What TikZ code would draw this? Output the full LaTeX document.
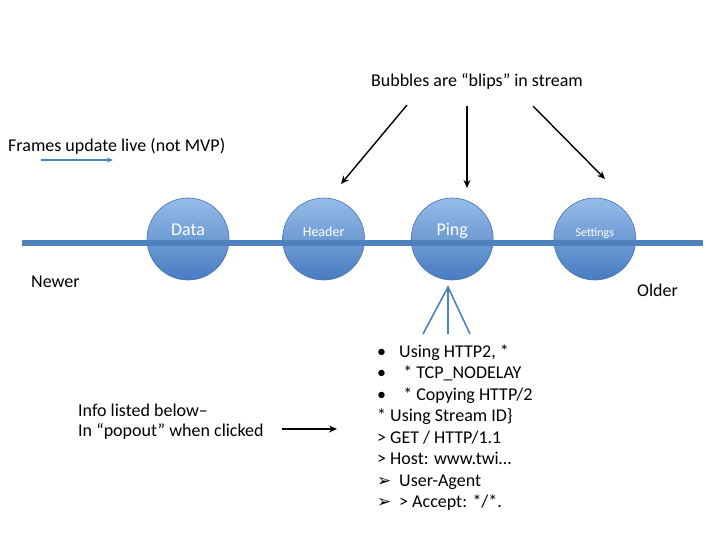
\documentclass[tikz,border=0pt]{standalone}
\usepackage{fontspec}
\setmainfont{Carlito}
\newfontfamily\arrowfont{DejaVu Sans}
\usetikzlibrary{arrows.meta,positioning}
\definecolor{streamblue}{RGB}{79,129,189}
\definecolor{bliptop}{RGB}{150,187,232}
\definecolor{blipbottom}{RGB}{72,124,193}
\definecolor{blipedge}{RGB}{68,114,176}

\begin{document}
\begin{tikzpicture}[x=1pt,y=-1pt,>={Stealth[length=8pt,width=7pt]},
  blip/.style={circle,minimum size=82pt,inner sep=0pt,draw=blipedge,line width=0.6pt,top color=bliptop,bottom color=blipbottom},
  bliplabel/.style={text=white,inner sep=0pt},
  note/.style={font=\fontsize{18}{21.43}\selectfont,inner sep=0pt},
  pointer/.style={->,line width=1.4pt},
  stream/.style={line width=6pt,color=streamblue}]

\useasboundingbox (0,0) rectangle (720,540);

% bubbles on the stream
\node[blip](data) at (188,239){};
\node[blip](header)[right=53pt of data]{};
\node[blip](ping)[right=46pt of header]{};
\node[blip](settings)[right=60pt of ping]{};

\coordinate(newend) at (22,243);
\coordinate(oldend) at (703,243);
\draw[stream](newend)--(oldend);

\node[bliplabel,font=\fontsize{18}{20}\selectfont] at ([yshift=9pt]data.center){Data};
\node[bliplabel,font=\fontsize{14}{16}\selectfont] at ([yshift=7pt]header.center){Header};
\node[bliplabel,font=\fontsize{18}{20}\selectfont] at ([yshift=8pt]ping.center){Ping};
\node[bliplabel,font=\fontsize{12}{14}\selectfont] at ([yshift=6pt]settings.center){Settings};

\node[note,anchor=west](newer) at (31,282){Newer};
\node[note,anchor=west](older) at (637,290){Older};

% top notes
\node[note](blips) at (477,81){Bubbles are “blips” in stream};
\coordinate(b1) at (407,105);
\coordinate(b2) at (467,106);
\coordinate(b3) at (533,106);
\coordinate(h1) at (341,184);
\coordinate(h2) at (467,188);
\coordinate(h3) at (605,179);
\path[pointer](b1)edge(h1)
	(b2)edge(h2)
	(b3)edge(h3);

\node[note,anchor=west](live) at (8,146){Frames update live (not MVP)};
\coordinate(liveA) at (41,160);
\coordinate(liveB) at (113,160);
\draw[->,>={Stealth[length=6pt,width=5pt]},streamblue,line width=1.6pt](liveA)--(liveB);

% popout list under ping
\coordinate(fantop) at (448,287);
\coordinate(fanleft) at (423,334);
\coordinate(fanmid) at (448,334);
\coordinate(fanright) at (470,334);
\draw[streamblue,line width=1.6pt](fanleft)--(fantop)--(fanright)
	(fantop)--(fanmid);

\node[note,anchor=north west,align=left](info) at (377,344.5){%
\makebox[22pt][l]{•}Using HTTP2, *\\
\makebox[22pt][l]{•} * TCP\_NODELAY\\
\makebox[22pt][l]{•} * Copying HTTP/2\\
* Using Stream ID\}\\
> GET / HTTP/1.1\\
> Host: www.twi…\\
\makebox[22pt][l]{\arrowfont\fontsize{17}{18}\selectfont ➢}User-Agent\\
\makebox[22pt][l]{\arrowfont\fontsize{17}{18}\selectfont ➢}> Accept: */*.};

\node[note,anchor=north west,align=left,font=\fontsize{18}{20.5}\selectfont](popout) at (78,403.5){Info listed below–\\In “popout” when clicked};
\coordinate(popA) at (282,429);
\coordinate(popB) at (337,429);
\draw[pointer](popA)--(popB);

\end{tikzpicture}
\end{document}
